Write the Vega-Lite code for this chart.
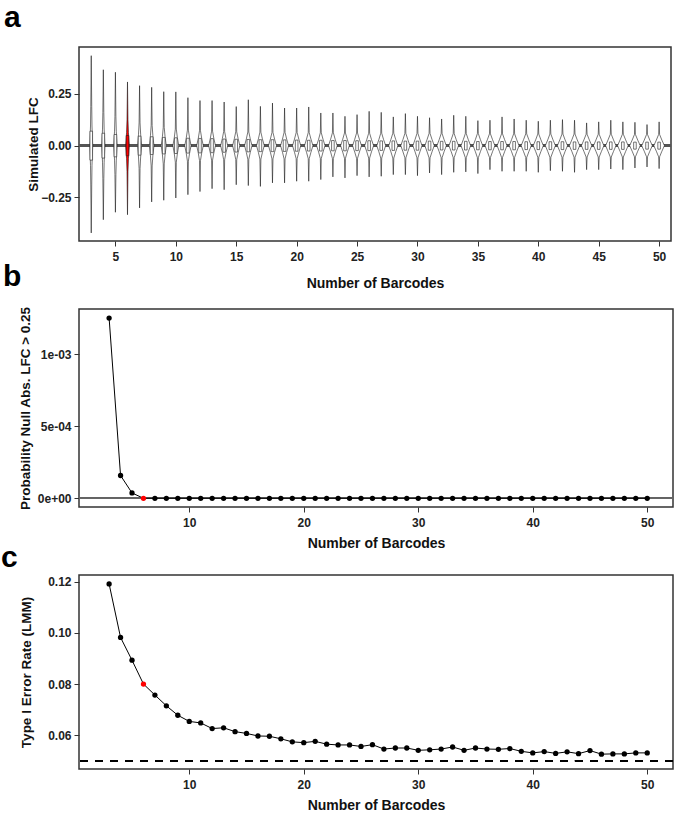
{
"$schema": "https://vega.github.io/schema/vega-lite/v6.json",
"padding": {"left": 0, "top": 2, "right": 1, "bottom": 0},
"bounds": "flush",
"spacing": 68,
"config": {
  "font": "Liberation Sans, sans-serif",
  "view": {"stroke": "#333", "strokeWidth": 1.5},
  "axis": {"grid": false, "domain": false, "tickColor": "#333", "tickSize": 5, "tickWidth": 1,
    "labelFontSize": 12, "labelFontWeight": "bold", "labelColor": "#222",
    "titleFontSize": 14, "titleFontWeight": "bold", "titleColor": "#111"},
  "axisBottom": {"labelBaseline": "alphabetic", "labelPadding": 14, "titleBaseline": "alphabetic"},
  "axisLeft": {"labelPadding": 3, "titleBaseline": "alphabetic", "titleAngle": -90, "titleFontSize": 13.5},
  "title": {"font": "Liberation Sans", "fontSize": 30, "fontWeight": "bold", "anchor": "start", "frame": "group", "baseline": "alphabetic", "color": "#000"}
},
"datasets": {
  "violin": [
{"n":3,"lfc":-0.422,"lo":3,"hi":3},{"n":3,"lfc":-0.19,"lo":2.96,"hi":3.04},{"n":3,"lfc":-0.095,"lo":2.938,"hi":3.062},{"n":3,"lfc":0,"lo":2.88,"hi":3.12},{"n":3,"lfc":0.095,"lo":2.938,"hi":3.062},{"n":3,"lfc":0.19,"lo":2.96,"hi":3.04},{"n":3,"lfc":0.435,"lo":3,"hi":3},
{"n":4,"lfc":-0.358,"lo":4,"hi":4},{"n":4,"lfc":-0.16,"lo":3.96,"hi":4.04},{"n":4,"lfc":-0.08,"lo":3.932,"hi":4.068},{"n":4,"lfc":0,"lo":3.87,"hi":4.13},{"n":4,"lfc":0.08,"lo":3.932,"hi":4.068},{"n":4,"lfc":0.16,"lo":3.96,"hi":4.04},{"n":4,"lfc":0.367,"lo":4,"hi":4},
{"n":5,"lfc":-0.322,"lo":5,"hi":5},{"n":5,"lfc":-0.14,"lo":4.96,"hi":5.04},{"n":5,"lfc":-0.07,"lo":4.927,"hi":5.073},{"n":5,"lfc":0,"lo":4.86,"hi":5.14},{"n":5,"lfc":0.07,"lo":4.927,"hi":5.073},{"n":5,"lfc":0.14,"lo":4.96,"hi":5.04},{"n":5,"lfc":0.355,"lo":5,"hi":5},
{"n":6,"lfc":-0.334,"lo":6,"hi":6},{"n":6,"lfc":-0.125,"lo":5.96,"hi":6.04},{"n":6,"lfc":-0.063,"lo":5.922,"hi":6.078},{"n":6,"lfc":0,"lo":5.85,"hi":6.15},{"n":6,"lfc":0.063,"lo":5.922,"hi":6.078},{"n":6,"lfc":0.125,"lo":5.96,"hi":6.04},{"n":6,"lfc":0.308,"lo":6,"hi":6},
{"n":7,"lfc":-0.301,"lo":7,"hi":7},{"n":7,"lfc":-0.11,"lo":6.96,"hi":7.04},{"n":7,"lfc":-0.055,"lo":6.912,"hi":7.088},{"n":7,"lfc":0,"lo":6.83,"hi":7.17},{"n":7,"lfc":0.055,"lo":6.912,"hi":7.088},{"n":7,"lfc":0.11,"lo":6.96,"hi":7.04},{"n":7,"lfc":0.29,"lo":7,"hi":7},
{"n":8,"lfc":-0.272,"lo":8,"hi":8},{"n":8,"lfc":-0.098,"lo":7.96,"hi":8.04},{"n":8,"lfc":-0.049,"lo":7.901,"hi":8.099},{"n":8,"lfc":0,"lo":7.81,"hi":8.19},{"n":8,"lfc":0.049,"lo":7.901,"hi":8.099},{"n":8,"lfc":0.098,"lo":7.96,"hi":8.04},{"n":8,"lfc":0.282,"lo":8,"hi":8},
{"n":9,"lfc":-0.264,"lo":9,"hi":9},{"n":9,"lfc":-0.088,"lo":8.96,"hi":9.04},{"n":9,"lfc":-0.044,"lo":8.891,"hi":9.109},{"n":9,"lfc":0,"lo":8.79,"hi":9.21},{"n":9,"lfc":0.044,"lo":8.891,"hi":9.109},{"n":9,"lfc":0.088,"lo":8.96,"hi":9.04},{"n":9,"lfc":0.261,"lo":9,"hi":9},
{"n":10,"lfc":-0.253,"lo":10,"hi":10},{"n":10,"lfc":-0.08,"lo":9.96,"hi":10.04},{"n":10,"lfc":-0.04,"lo":9.875,"hi":10.125},{"n":10,"lfc":0,"lo":9.76,"hi":10.24},{"n":10,"lfc":0.04,"lo":9.875,"hi":10.125},{"n":10,"lfc":0.08,"lo":9.96,"hi":10.04},{"n":10,"lfc":0.26,"lo":10,"hi":10},
{"n":11,"lfc":-0.237,"lo":11,"hi":11},{"n":11,"lfc":-0.075,"lo":10.96,"hi":11.04},{"n":11,"lfc":-0.038,"lo":10.865,"hi":11.135},{"n":11,"lfc":0,"lo":10.74,"hi":11.26},{"n":11,"lfc":0.038,"lo":10.865,"hi":11.135},{"n":11,"lfc":0.075,"lo":10.96,"hi":11.04},{"n":11,"lfc":0.232,"lo":11,"hi":11},
{"n":12,"lfc":-0.222,"lo":12,"hi":12},{"n":12,"lfc":-0.072,"lo":11.96,"hi":12.04},{"n":12,"lfc":-0.036,"lo":11.86,"hi":12.14},{"n":12,"lfc":0,"lo":11.73,"hi":12.27},{"n":12,"lfc":0.036,"lo":11.86,"hi":12.14},{"n":12,"lfc":0.072,"lo":11.96,"hi":12.04},{"n":12,"lfc":0.218,"lo":12,"hi":12},
{"n":13,"lfc":-0.208,"lo":13,"hi":13},{"n":13,"lfc":-0.07,"lo":12.96,"hi":13.04},{"n":13,"lfc":-0.035,"lo":12.854,"hi":13.146},{"n":13,"lfc":0,"lo":12.72,"hi":13.28},{"n":13,"lfc":0.035,"lo":12.854,"hi":13.146},{"n":13,"lfc":0.07,"lo":12.96,"hi":13.04},{"n":13,"lfc":0.218,"lo":13,"hi":13},
{"n":14,"lfc":-0.213,"lo":14,"hi":14},{"n":14,"lfc":-0.068,"lo":13.96,"hi":14.04},{"n":14,"lfc":-0.034,"lo":13.849,"hi":14.151},{"n":14,"lfc":0,"lo":13.71,"hi":14.29},{"n":14,"lfc":0.034,"lo":13.849,"hi":14.151},{"n":14,"lfc":0.068,"lo":13.96,"hi":14.04},{"n":14,"lfc":0.211,"lo":14,"hi":14},
{"n":15,"lfc":-0.189,"lo":15,"hi":15},{"n":15,"lfc":-0.067,"lo":14.96,"hi":15.04},{"n":15,"lfc":-0.034,"lo":14.844,"hi":15.156},{"n":15,"lfc":0,"lo":14.7,"hi":15.3},{"n":15,"lfc":0.034,"lo":14.844,"hi":15.156},{"n":15,"lfc":0.067,"lo":14.96,"hi":15.04},{"n":15,"lfc":0.189,"lo":15,"hi":15},
{"n":16,"lfc":-0.193,"lo":16,"hi":16},{"n":16,"lfc":-0.066,"lo":15.96,"hi":16.04},{"n":16,"lfc":-0.033,"lo":15.839,"hi":16.161},{"n":16,"lfc":0,"lo":15.69,"hi":16.31},{"n":16,"lfc":0.033,"lo":15.839,"hi":16.161},{"n":16,"lfc":0.066,"lo":15.96,"hi":16.04},{"n":16,"lfc":0.222,"lo":16,"hi":16},
{"n":17,"lfc":-0.197,"lo":17,"hi":17},{"n":17,"lfc":-0.065,"lo":16.96,"hi":17.04},{"n":17,"lfc":-0.033,"lo":16.834,"hi":17.166},{"n":17,"lfc":0,"lo":16.68,"hi":17.32},{"n":17,"lfc":0.033,"lo":16.834,"hi":17.166},{"n":17,"lfc":0.065,"lo":16.96,"hi":17.04},{"n":17,"lfc":0.19,"lo":17,"hi":17},
{"n":18,"lfc":-0.18,"lo":18,"hi":18},{"n":18,"lfc":-0.064,"lo":17.96,"hi":18.04},{"n":18,"lfc":-0.032,"lo":17.828,"hi":18.172},{"n":18,"lfc":0,"lo":17.67,"hi":18.33},{"n":18,"lfc":0.032,"lo":17.828,"hi":18.172},{"n":18,"lfc":0.064,"lo":17.96,"hi":18.04},{"n":18,"lfc":0.206,"lo":18,"hi":18},
{"n":19,"lfc":-0.18,"lo":19,"hi":19},{"n":19,"lfc":-0.064,"lo":18.96,"hi":19.04},{"n":19,"lfc":-0.032,"lo":18.828,"hi":19.172},{"n":19,"lfc":0,"lo":18.67,"hi":19.33},{"n":19,"lfc":0.032,"lo":18.828,"hi":19.172},{"n":19,"lfc":0.064,"lo":18.96,"hi":19.04},{"n":19,"lfc":0.182,"lo":19,"hi":19},
{"n":20,"lfc":-0.172,"lo":20,"hi":20},{"n":20,"lfc":-0.063,"lo":19.96,"hi":20.04},{"n":20,"lfc":-0.032,"lo":19.823,"hi":20.177},{"n":20,"lfc":0,"lo":19.66,"hi":20.34},{"n":20,"lfc":0.032,"lo":19.823,"hi":20.177},{"n":20,"lfc":0.063,"lo":19.96,"hi":20.04},{"n":20,"lfc":0.182,"lo":20,"hi":20},
{"n":21,"lfc":-0.172,"lo":21,"hi":21},{"n":21,"lfc":-0.063,"lo":20.96,"hi":21.04},{"n":21,"lfc":-0.032,"lo":20.818,"hi":21.182},{"n":21,"lfc":0,"lo":20.65,"hi":21.35},{"n":21,"lfc":0.032,"lo":20.818,"hi":21.182},{"n":21,"lfc":0.063,"lo":20.96,"hi":21.04},{"n":21,"lfc":0.187,"lo":21,"hi":21},
{"n":22,"lfc":-0.164,"lo":22,"hi":22},{"n":22,"lfc":-0.062,"lo":21.96,"hi":22.04},{"n":22,"lfc":-0.031,"lo":21.818,"hi":22.182},{"n":22,"lfc":0,"lo":21.65,"hi":22.35},{"n":22,"lfc":0.031,"lo":21.818,"hi":22.182},{"n":22,"lfc":0.062,"lo":21.96,"hi":22.04},{"n":22,"lfc":0.158,"lo":22,"hi":22},
{"n":23,"lfc":-0.151,"lo":23,"hi":23},{"n":23,"lfc":-0.062,"lo":22.96,"hi":23.04},{"n":23,"lfc":-0.031,"lo":22.813,"hi":23.187},{"n":23,"lfc":0,"lo":22.64,"hi":23.36},{"n":23,"lfc":0.031,"lo":22.813,"hi":23.187},{"n":23,"lfc":0.062,"lo":22.96,"hi":23.04},{"n":23,"lfc":0.158,"lo":23,"hi":23},
{"n":24,"lfc":-0.156,"lo":24,"hi":24},{"n":24,"lfc":-0.061,"lo":23.96,"hi":24.04},{"n":24,"lfc":-0.031,"lo":23.813,"hi":24.187},{"n":24,"lfc":0,"lo":23.64,"hi":24.36},{"n":24,"lfc":0.031,"lo":23.813,"hi":24.187},{"n":24,"lfc":0.061,"lo":23.96,"hi":24.04},{"n":24,"lfc":0.142,"lo":24,"hi":24},
{"n":25,"lfc":-0.145,"lo":25,"hi":25},{"n":25,"lfc":-0.061,"lo":24.96,"hi":25.04},{"n":25,"lfc":-0.031,"lo":24.808,"hi":25.192},{"n":25,"lfc":0,"lo":24.63,"hi":25.37},{"n":25,"lfc":0.031,"lo":24.808,"hi":25.192},{"n":25,"lfc":0.061,"lo":24.96,"hi":25.04},{"n":25,"lfc":0.15,"lo":25,"hi":25},
{"n":26,"lfc":-0.151,"lo":26,"hi":26},{"n":26,"lfc":-0.06,"lo":25.96,"hi":26.04},{"n":26,"lfc":-0.03,"lo":25.808,"hi":26.192},{"n":26,"lfc":0,"lo":25.63,"hi":26.37},{"n":26,"lfc":0.03,"lo":25.808,"hi":26.192},{"n":26,"lfc":0.06,"lo":25.96,"hi":26.04},{"n":26,"lfc":0.166,"lo":26,"hi":26},
{"n":27,"lfc":-0.148,"lo":27,"hi":27},{"n":27,"lfc":-0.06,"lo":26.96,"hi":27.04},{"n":27,"lfc":-0.03,"lo":26.808,"hi":27.192},{"n":27,"lfc":0,"lo":26.63,"hi":27.37},{"n":27,"lfc":0.03,"lo":26.808,"hi":27.192},{"n":27,"lfc":0.06,"lo":26.96,"hi":27.04},{"n":27,"lfc":0.161,"lo":27,"hi":27},
{"n":28,"lfc":-0.14,"lo":28,"hi":28},{"n":28,"lfc":-0.06,"lo":27.96,"hi":28.04},{"n":28,"lfc":-0.03,"lo":27.802,"hi":28.198},{"n":28,"lfc":0,"lo":27.62,"hi":28.38},{"n":28,"lfc":0.03,"lo":27.802,"hi":28.198},{"n":28,"lfc":0.06,"lo":27.96,"hi":28.04},{"n":28,"lfc":0.139,"lo":28,"hi":28},
{"n":29,"lfc":-0.14,"lo":29,"hi":29},{"n":29,"lfc":-0.059,"lo":28.96,"hi":29.04},{"n":29,"lfc":-0.03,"lo":28.802,"hi":29.198},{"n":29,"lfc":0,"lo":28.62,"hi":29.38},{"n":29,"lfc":0.03,"lo":28.802,"hi":29.198},{"n":29,"lfc":0.059,"lo":28.96,"hi":29.04},{"n":29,"lfc":0.155,"lo":29,"hi":29},
{"n":30,"lfc":-0.145,"lo":30,"hi":30},{"n":30,"lfc":-0.059,"lo":29.96,"hi":30.04},{"n":30,"lfc":-0.03,"lo":29.802,"hi":30.198},{"n":30,"lfc":0,"lo":29.62,"hi":30.38},{"n":30,"lfc":0.03,"lo":29.802,"hi":30.198},{"n":30,"lfc":0.059,"lo":29.96,"hi":30.04},{"n":30,"lfc":0.142,"lo":30,"hi":30},
{"n":31,"lfc":-0.132,"lo":31,"hi":31},{"n":31,"lfc":-0.059,"lo":30.96,"hi":31.04},{"n":31,"lfc":-0.03,"lo":30.797,"hi":31.203},{"n":31,"lfc":0,"lo":30.61,"hi":31.39},{"n":31,"lfc":0.03,"lo":30.797,"hi":31.203},{"n":31,"lfc":0.059,"lo":30.96,"hi":31.04},{"n":31,"lfc":0.135,"lo":31,"hi":31},
{"n":32,"lfc":-0.14,"lo":32,"hi":32},{"n":32,"lfc":-0.058,"lo":31.96,"hi":32.04},{"n":32,"lfc":-0.029,"lo":31.797,"hi":32.203},{"n":32,"lfc":0,"lo":31.61,"hi":32.39},{"n":32,"lfc":0.029,"lo":31.797,"hi":32.203},{"n":32,"lfc":0.058,"lo":31.96,"hi":32.04},{"n":32,"lfc":0.129,"lo":32,"hi":32},
{"n":33,"lfc":-0.129,"lo":33,"hi":33},{"n":33,"lfc":-0.058,"lo":32.96,"hi":33.04},{"n":33,"lfc":-0.029,"lo":32.792,"hi":33.208},{"n":33,"lfc":0,"lo":32.6,"hi":33.4},{"n":33,"lfc":0.029,"lo":32.792,"hi":33.208},{"n":33,"lfc":0.058,"lo":32.96,"hi":33.04},{"n":33,"lfc":0.147,"lo":33,"hi":33},
{"n":34,"lfc":-0.127,"lo":34,"hi":34},{"n":34,"lfc":-0.058,"lo":33.96,"hi":34.04},{"n":34,"lfc":-0.029,"lo":33.792,"hi":34.208},{"n":34,"lfc":0,"lo":33.6,"hi":34.4},{"n":34,"lfc":0.029,"lo":33.792,"hi":34.208},{"n":34,"lfc":0.058,"lo":33.96,"hi":34.04},{"n":34,"lfc":0.142,"lo":34,"hi":34},
{"n":35,"lfc":-0.135,"lo":35,"hi":35},{"n":35,"lfc":-0.058,"lo":34.96,"hi":35.04},{"n":35,"lfc":-0.029,"lo":34.792,"hi":35.208},{"n":35,"lfc":0,"lo":34.6,"hi":35.4},{"n":35,"lfc":0.029,"lo":34.792,"hi":35.208},{"n":35,"lfc":0.058,"lo":34.96,"hi":35.04},{"n":35,"lfc":0.121,"lo":35,"hi":35},
{"n":36,"lfc":-0.116,"lo":36,"hi":36},{"n":36,"lfc":-0.057,"lo":35.96,"hi":36.04},{"n":36,"lfc":-0.029,"lo":35.787,"hi":36.213},{"n":36,"lfc":0,"lo":35.59,"hi":36.41},{"n":36,"lfc":0.029,"lo":35.787,"hi":36.213},{"n":36,"lfc":0.057,"lo":35.96,"hi":36.04},{"n":36,"lfc":0.123,"lo":36,"hi":36},
{"n":37,"lfc":-0.124,"lo":37,"hi":37},{"n":37,"lfc":-0.057,"lo":36.96,"hi":37.04},{"n":37,"lfc":-0.029,"lo":36.787,"hi":37.213},{"n":37,"lfc":0,"lo":36.59,"hi":37.41},{"n":37,"lfc":0.029,"lo":36.787,"hi":37.213},{"n":37,"lfc":0.057,"lo":36.96,"hi":37.04},{"n":37,"lfc":0.139,"lo":37,"hi":37},
{"n":38,"lfc":-0.124,"lo":38,"hi":38},{"n":38,"lfc":-0.057,"lo":37.96,"hi":38.04},{"n":38,"lfc":-0.029,"lo":37.787,"hi":38.213},{"n":38,"lfc":0,"lo":37.59,"hi":38.41},{"n":38,"lfc":0.029,"lo":37.787,"hi":38.213},{"n":38,"lfc":0.057,"lo":37.96,"hi":38.04},{"n":38,"lfc":0.129,"lo":38,"hi":38},
{"n":39,"lfc":-0.124,"lo":39,"hi":39},{"n":39,"lfc":-0.057,"lo":38.96,"hi":39.04},{"n":39,"lfc":-0.029,"lo":38.782,"hi":39.218},{"n":39,"lfc":0,"lo":38.58,"hi":39.42},{"n":39,"lfc":0.029,"lo":38.782,"hi":39.218},{"n":39,"lfc":0.057,"lo":38.96,"hi":39.04},{"n":39,"lfc":0.123,"lo":39,"hi":39},
{"n":40,"lfc":-0.129,"lo":40,"hi":40},{"n":40,"lfc":-0.056,"lo":39.96,"hi":40.04},{"n":40,"lfc":-0.028,"lo":39.782,"hi":40.218},{"n":40,"lfc":0,"lo":39.58,"hi":40.42},{"n":40,"lfc":0.028,"lo":39.782,"hi":40.218},{"n":40,"lfc":0.056,"lo":39.96,"hi":40.04},{"n":40,"lfc":0.118,"lo":40,"hi":40},
{"n":41,"lfc":-0.121,"lo":41,"hi":41},{"n":41,"lfc":-0.056,"lo":40.96,"hi":41.04},{"n":41,"lfc":-0.028,"lo":40.782,"hi":41.218},{"n":41,"lfc":0,"lo":40.58,"hi":41.42},{"n":41,"lfc":0.028,"lo":40.782,"hi":41.218},{"n":41,"lfc":0.056,"lo":40.96,"hi":41.04},{"n":41,"lfc":0.123,"lo":41,"hi":41},
{"n":42,"lfc":-0.124,"lo":42,"hi":42},{"n":42,"lfc":-0.056,"lo":41.96,"hi":42.04},{"n":42,"lfc":-0.028,"lo":41.782,"hi":42.218},{"n":42,"lfc":0,"lo":41.58,"hi":42.42},{"n":42,"lfc":0.028,"lo":41.782,"hi":42.218},{"n":42,"lfc":0.056,"lo":41.96,"hi":42.04},{"n":42,"lfc":0.126,"lo":42,"hi":42},
{"n":43,"lfc":-0.129,"lo":43,"hi":43},{"n":43,"lfc":-0.056,"lo":42.96,"hi":43.04},{"n":43,"lfc":-0.028,"lo":42.776,"hi":43.224},{"n":43,"lfc":0,"lo":42.57,"hi":43.43},{"n":43,"lfc":0.028,"lo":42.776,"hi":43.224},{"n":43,"lfc":0.056,"lo":42.96,"hi":43.04},{"n":43,"lfc":0.123,"lo":43,"hi":43},
{"n":44,"lfc":-0.116,"lo":44,"hi":44},{"n":44,"lfc":-0.055,"lo":43.96,"hi":44.04},{"n":44,"lfc":-0.028,"lo":43.776,"hi":44.224},{"n":44,"lfc":0,"lo":43.57,"hi":44.43},{"n":44,"lfc":0.028,"lo":43.776,"hi":44.224},{"n":44,"lfc":0.055,"lo":43.96,"hi":44.04},{"n":44,"lfc":0.11,"lo":44,"hi":44},
{"n":45,"lfc":-0.116,"lo":45,"hi":45},{"n":45,"lfc":-0.055,"lo":44.96,"hi":45.04},{"n":45,"lfc":-0.028,"lo":44.776,"hi":45.224},{"n":45,"lfc":0,"lo":44.57,"hi":45.43},{"n":45,"lfc":0.028,"lo":44.776,"hi":45.224},{"n":45,"lfc":0.055,"lo":44.96,"hi":45.04},{"n":45,"lfc":0.115,"lo":45,"hi":45},
{"n":46,"lfc":-0.113,"lo":46,"hi":46},{"n":46,"lfc":-0.055,"lo":45.96,"hi":46.04},{"n":46,"lfc":-0.028,"lo":45.776,"hi":46.224},{"n":46,"lfc":0,"lo":45.57,"hi":46.43},{"n":46,"lfc":0.028,"lo":45.776,"hi":46.224},{"n":46,"lfc":0.055,"lo":45.96,"hi":46.04},{"n":46,"lfc":0.123,"lo":46,"hi":46},
{"n":47,"lfc":-0.116,"lo":47,"hi":47},{"n":47,"lfc":-0.055,"lo":46.96,"hi":47.04},{"n":47,"lfc":-0.028,"lo":46.771,"hi":47.229},{"n":47,"lfc":0,"lo":46.56,"hi":47.44},{"n":47,"lfc":0.028,"lo":46.771,"hi":47.229},{"n":47,"lfc":0.055,"lo":46.96,"hi":47.04},{"n":47,"lfc":0.115,"lo":47,"hi":47},
{"n":48,"lfc":-0.108,"lo":48,"hi":48},{"n":48,"lfc":-0.054,"lo":47.96,"hi":48.04},{"n":48,"lfc":-0.027,"lo":47.771,"hi":48.229},{"n":48,"lfc":0,"lo":47.56,"hi":48.44},{"n":48,"lfc":0.027,"lo":47.771,"hi":48.229},{"n":48,"lfc":0.054,"lo":47.96,"hi":48.04},{"n":48,"lfc":0.113,"lo":48,"hi":48},
{"n":49,"lfc":-0.103,"lo":49,"hi":49},{"n":49,"lfc":-0.054,"lo":48.96,"hi":49.04},{"n":49,"lfc":-0.027,"lo":48.771,"hi":49.229},{"n":49,"lfc":0,"lo":48.56,"hi":49.44},{"n":49,"lfc":0.027,"lo":48.771,"hi":49.229},{"n":49,"lfc":0.054,"lo":48.96,"hi":49.04},{"n":49,"lfc":0.102,"lo":49,"hi":49},
{"n":50,"lfc":-0.111,"lo":50,"hi":50},{"n":50,"lfc":-0.054,"lo":49.96,"hi":50.04},{"n":50,"lfc":-0.027,"lo":49.771,"hi":50.229},{"n":50,"lfc":0,"lo":49.56,"hi":50.44},{"n":50,"lfc":0.027,"lo":49.771,"hi":50.229},{"n":50,"lfc":0.054,"lo":49.96,"hi":50.04},{"n":50,"lfc":0.115,"lo":50,"hi":50}
  ],
  "box": [
{"n":3,"q1":-0.07,"q3":0.07},{"n":4,"q1":-0.06,"q3":0.06},{"n":5,"q1":-0.054,"q3":0.054},{"n":6,"q1":-0.049,"q3":0.049},{"n":7,"q1":-0.046,"q3":0.046},{"n":8,"q1":-0.043,"q3":0.043},{"n":9,"q1":-0.04,"q3":0.04},{"n":10,"q1":-0.038,"q3":0.038},{"n":11,"q1":-0.036,"q3":0.036},{"n":12,"q1":-0.035,"q3":0.035},{"n":13,"q1":-0.034,"q3":0.034},{"n":14,"q1":-0.032,"q3":0.032},{"n":15,"q1":-0.031,"q3":0.031},{"n":16,"q1":-0.03,"q3":0.03},{"n":17,"q1":-0.029,"q3":0.029},{"n":18,"q1":-0.029,"q3":0.029},{"n":19,"q1":-0.028,"q3":0.028},{"n":20,"q1":-0.027,"q3":0.027},{"n":21,"q1":-0.026,"q3":0.026},{"n":22,"q1":-0.026,"q3":0.026},{"n":23,"q1":-0.025,"q3":0.025},{"n":24,"q1":-0.025,"q3":0.025},{"n":25,"q1":-0.024,"q3":0.024},{"n":26,"q1":-0.024,"q3":0.024},{"n":27,"q1":-0.023,"q3":0.023},{"n":28,"q1":-0.023,"q3":0.023},{"n":29,"q1":-0.022,"q3":0.022},{"n":30,"q1":-0.022,"q3":0.022},{"n":31,"q1":-0.022,"q3":0.022},{"n":32,"q1":-0.021,"q3":0.021},{"n":33,"q1":-0.021,"q3":0.021},{"n":34,"q1":-0.021,"q3":0.021},{"n":35,"q1":-0.02,"q3":0.02},{"n":36,"q1":-0.02,"q3":0.02},{"n":37,"q1":-0.02,"q3":0.02},{"n":38,"q1":-0.02,"q3":0.02},{"n":39,"q1":-0.019,"q3":0.019},{"n":40,"q1":-0.019,"q3":0.019},{"n":41,"q1":-0.019,"q3":0.019},{"n":42,"q1":-0.019,"q3":0.019},{"n":43,"q1":-0.018,"q3":0.018},{"n":44,"q1":-0.018,"q3":0.018},{"n":45,"q1":-0.018,"q3":0.018},{"n":46,"q1":-0.018,"q3":0.018},{"n":47,"q1":-0.018,"q3":0.018},{"n":48,"q1":-0.017,"q3":0.017},{"n":49,"q1":-0.017,"q3":0.017},{"n":50,"q1":-0.017,"q3":0.017}
  ],
  "sim": [
{"n":3,"pnull":0.00125,"type1":0.1191},{"n":4,"pnull":0.000158,"type1":0.0982},{"n":5,"pnull":0.000037,"type1":0.0893},{"n":6,"pnull":0,"type1":0.0800},{"n":7,"pnull":0,"type1":0.0757},{"n":8,"pnull":0,"type1":0.0715},{"n":9,"pnull":0,"type1":0.0678},{"n":10,"pnull":0,"type1":0.0654},{"n":11,"pnull":0,"type1":0.0648},{"n":12,"pnull":0,"type1":0.0626},{"n":13,"pnull":0,"type1":0.0629},{"n":14,"pnull":0,"type1":0.0614},{"n":15,"pnull":0,"type1":0.0607},{"n":16,"pnull":0,"type1":0.0597},{"n":17,"pnull":0,"type1":0.0596},{"n":18,"pnull":0,"type1":0.0586},{"n":19,"pnull":0,"type1":0.0574},{"n":20,"pnull":0,"type1":0.0571},{"n":21,"pnull":0,"type1":0.0576},{"n":22,"pnull":0,"type1":0.0565},{"n":23,"pnull":0,"type1":0.0562},{"n":24,"pnull":0,"type1":0.0562},{"n":25,"pnull":0,"type1":0.0556},{"n":26,"pnull":0,"type1":0.0563},{"n":27,"pnull":0,"type1":0.0546},{"n":28,"pnull":0,"type1":0.0550},{"n":29,"pnull":0,"type1":0.0550},{"n":30,"pnull":0,"type1":0.0541},{"n":31,"pnull":0,"type1":0.0543},{"n":32,"pnull":0,"type1":0.0546},{"n":33,"pnull":0,"type1":0.0554},{"n":34,"pnull":0,"type1":0.0541},{"n":35,"pnull":0,"type1":0.0550},{"n":36,"pnull":0,"type1":0.0546},{"n":37,"pnull":0,"type1":0.0545},{"n":38,"pnull":0,"type1":0.0548},{"n":39,"pnull":0,"type1":0.0537},{"n":40,"pnull":0,"type1":0.0531},{"n":41,"pnull":0,"type1":0.0536},{"n":42,"pnull":0,"type1":0.0529},{"n":43,"pnull":0,"type1":0.0535},{"n":44,"pnull":0,"type1":0.0528},{"n":45,"pnull":0,"type1":0.0540},{"n":46,"pnull":0,"type1":0.0526},{"n":47,"pnull":0,"type1":0.0527},{"n":48,"pnull":0,"type1":0.0527},{"n":49,"pnull":0,"type1":0.0531},{"n":50,"pnull":0,"type1":0.0531}
  ]
},
"vconcat": [
  {
    "width": 592, "height": 194,
    "title": {"text": "a", "dx": -75, "offset": 14},
    "layer": [
      {"data": {"name": "violin"},
       "mark": {"type": "rule", "color": "#555", "strokeWidth": 2},
       "encoding": {"y": {"datum": 0, "type": "quantitative"}}},
      {"data": {"name": "violin"},
       "mark": {"type": "area", "orient": "horizontal", "stroke": "#1a1a1a", "strokeWidth": 0.6, "fillOpacity": 1},
       "encoding": {
         "y": {"field": "lfc", "type": "quantitative", "scale": {"domain": [-0.461, 0.477], "nice": false, "zero": false},
               "axis": {"values": [-0.25, 0, 0.25], "format": ".2f", "title": "Simulated LFC", "titleX": -42}},
         "x": {"field": "lo", "type": "quantitative", "scale": {"domain": [2.4, 50.57], "nice": false, "zero": false},
               "axis": {"values": [5,10,15,20,25,30,35,40,45,50], "title": "Number of Barcodes", "titleY": 46}},
         "x2": {"field": "hi"},
         "detail": {"field": "n", "type": "nominal"},
         "fill": {"condition": {"test": "datum.n === 6", "value": "#ff0000"}, "value": "#ffffff"}
       }},
      {"data": {"name": "box"},
       "mark": {"type": "bar", "width": 2.6, "stroke": "#1a1a1a", "strokeWidth": 0.6},
       "encoding": {
         "x": {"field": "n", "type": "quantitative"},
         "y": {"field": "q1", "type": "quantitative"},
         "y2": {"field": "q3"},
         "fill": {"condition": {"test": "datum.n === 6", "value": "#ff0000"}, "value": "#ffffff"}
       }}
    ]
  },
  {
    "width": 594, "height": 198,
    "title": {"text": "b", "dx": -76, "offset": 14},
    "data": {"name": "sim"},
    "layer": [
      {"mark": {"type": "rule", "color": "#666", "strokeWidth": 1},
       "encoding": {"y": {"datum": 0, "type": "quantitative"}}},
      {"mark": {"type": "line", "color": "#000", "strokeWidth": 1},
       "encoding": {
         "x": {"field": "n", "type": "quantitative", "scale": {"domain": [0.37, 52.25], "nice": false, "zero": false},
               "axis": {"values": [10,20,30,40,50], "title": "Number of Barcodes", "titleY": 40}},
         "y": {"field": "pnull", "type": "quantitative", "scale": {"domain": [-0.0000605, 0.001313], "nice": false, "zero": false},
               "axis": {"values": [0, 0.0005, 0.001], "labelExpr": "datum.value == 0 ? '0e+00' : (datum.value < 0.0007 ? '5e-04' : '1e-03')", "title": "Probability Null Abs. LFC > 0.25", "titleX": -50}}
       }},
      {"mark": {"type": "circle", "size": 28, "opacity": 1},
       "encoding": {
         "x": {"field": "n", "type": "quantitative"},
         "y": {"field": "pnull", "type": "quantitative"},
         "color": {"condition": {"test": "datum.n === 6", "value": "#ff0000"}, "value": "#000000"}
       }}
    ]
  },
  {
    "width": 594, "height": 194,
    "title": {"text": "c", "dx": -78, "offset": 2},
    "data": {"name": "sim"},
    "layer": [
      {"mark": {"type": "rule", "color": "#000", "strokeWidth": 1, "strokeDash": [8, 7]},
       "encoding": {"y": {"datum": 0.05, "type": "quantitative"}}},
      {"mark": {"type": "line", "color": "#000", "strokeWidth": 1},
       "encoding": {
         "x": {"field": "n", "type": "quantitative", "scale": {"domain": [0.37, 52.25], "nice": false, "zero": false},
               "axis": {"values": [10,20,30,40,50], "title": "Number of Barcodes", "titleY": 40}},
         "y": {"field": "type1", "type": "quantitative", "scale": {"domain": [0.0468, 0.1226], "nice": false, "zero": false},
               "axis": {"values": [0.06, 0.08, 0.10, 0.12], "format": ".2f", "title": "Type I Error Rate (LMM)", "titleX": -49}}
       }},
      {"mark": {"type": "circle", "size": 28, "opacity": 1},
       "encoding": {
         "x": {"field": "n", "type": "quantitative"},
         "y": {"field": "type1", "type": "quantitative"},
         "color": {"condition": {"test": "datum.n === 6", "value": "#ff0000"}, "value": "#000000"}
       }}
    ]
  }
]
}
